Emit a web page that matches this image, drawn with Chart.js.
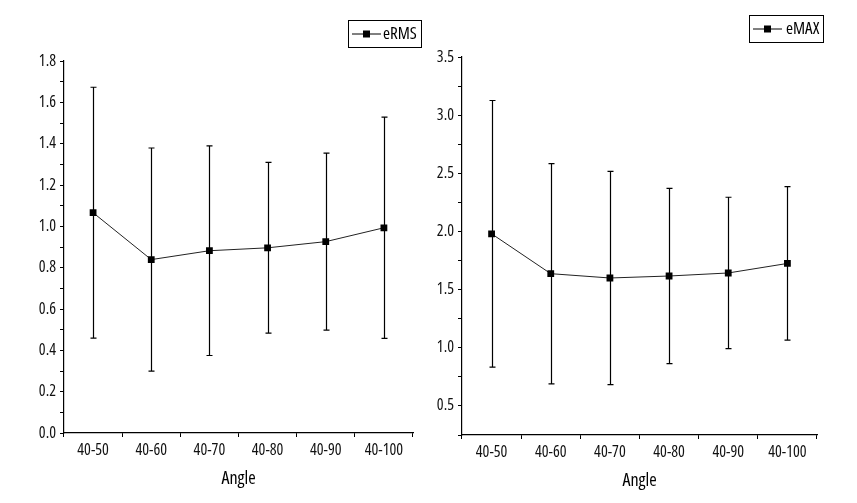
<!DOCTYPE html>
<html>
<head>
<meta charset="utf-8">
<script src="https://cdn.jsdelivr.net/npm/chart.js@4/dist/chart.umd.min.js"></script>
<style>
  html, body { margin: 0; padding: 0; background: #fff; }
  #wrap { position: relative; width: 857px; height: 503px; }
  .panel { position: absolute; top: 0; height: 503px; }
  #left { left: 0; width: 430px; }
  #right { left: 430px; width: 427px; }
</style>
</head>
<body>
<div id="wrap">
  <div class="panel" id="left"><canvas id="rmsChart"></canvas></div>
  <div class="panel" id="right"><canvas id="maxChart"></canvas></div>
</div>
<script>
const angles = ["40-50", "40-60", "40-70", "40-80", "40-90", "40-100"];

const eRmsMean = [1.066, 0.839, 0.882, 0.896, 0.926, 0.993];
const eRmsSd = [0.607, 0.540, 0.507, 0.413, 0.428, 0.535];

const eMaxMean = [1.980, 1.637, 1.600, 1.617, 1.643, 1.725];
const eMaxSd = [1.146, 0.947, 0.917, 0.754, 0.651, 0.660];

// narrow look of the original labels: Open Sans in its condensed width
const FONT = "'Open Sans', 'Liberation Sans', sans-serif";
const NARROW = "condensed";

// vertical error bars with caps, drawn from the dataset's errors array
const errorBars = {
  id: "errorBars",
  afterDatasetsDraw(chart) {
    const ctx = chart.ctx;
    const y = chart.scales.y;
    chart.data.datasets.forEach((ds, i) => {
      const meta = chart.getDatasetMeta(i);
      ctx.save();
      ctx.strokeStyle = "#000";
      ctx.lineWidth = 1.2;
      meta.data.forEach((pt, j) => {
        const x = Math.round(pt.x) + 0.5;
        const top = y.getPixelForValue(ds.data[j] + ds.errors[j]);
        const bot = y.getPixelForValue(ds.data[j] - ds.errors[j]);
        ctx.beginPath();
        ctx.moveTo(x, top);
        ctx.lineTo(x, bot);
        ctx.moveTo(x - 3, top);
        ctx.lineTo(x + 3, top);
        ctx.moveTo(x - 3, bot);
        ctx.lineTo(x + 3, bot);
        ctx.stroke();
      });
      ctx.restore();
    });
  }
};

// boxed legend: line + square marker + label
const boxLegend = {
  id: "boxLegend",
  afterDraw(chart, args, opts) {
    const ctx = chart.ctx;
    const label = chart.data.datasets[0].label;
    const cy = opts.y + opts.h / 2;
    ctx.save();
    ctx.strokeStyle = "#000";
    ctx.fillStyle = "#000";
    ctx.lineWidth = 1;
    ctx.strokeRect(opts.x + 0.5, opts.y + 0.5, opts.w, opts.h);
    ctx.beginPath();
    ctx.moveTo(opts.x + 4, cy + 0.5);
    ctx.lineTo(opts.x + 33, cy + 0.5);
    ctx.stroke();
    ctx.fillRect(opts.x + 15, cy - 3, 7, 7);
    ctx.font = NARROW + " 17px " + FONT;
    ctx.textBaseline = "middle";
    ctx.fillText(label, opts.x + opts.textOffset, cy + 1);
    ctx.restore();
  }
};

function makeChart(id, label, means, sds, yCfg, layout) {
  return new Chart(document.getElementById(id), {
    type: "line",
    data: {
      labels: angles,
      datasets: [{
        label: label,
        data: means,
        errors: sds,
        borderColor: "#222",
        borderWidth: 1,
        pointStyle: "rect",
        pointRadius: 4.8,
        pointBackgroundColor: "#000",
        pointBorderColor: "#000",
        pointBorderWidth: 0,
        tension: 0
      }]
    },
    options: {
      responsive: true,
      maintainAspectRatio: false,
      animation: false,
      layout: { padding: layout.padding },
      plugins: {
        legend: { display: false },
        tooltip: { enabled: false },
        boxLegend: layout.legend
      },
      scales: {
        x: {
          offset: true,
          grid: { offset: true, drawOnChartArea: false, tickLength: 4, color: "#000" },
          border: { color: "#000", width: 1.2 },
          ticks: { color: "#111", font: { family: FONT, size: 16, weight: NARROW }, padding: 4, maxRotation: 0 },
          title: { display: true, text: "Angle", color: "#000", font: { family: FONT, size: 18, weight: NARROW }, padding: 0 },
          afterFit: (s) => { s.height = layout.xHeight; }
        },
        y: {
          min: yCfg.min,
          max: yCfg.max,
          grid: { drawOnChartArea: false, tickLength: 4, color: "#000" },
          border: { color: "#000", width: 1.2 },
          ticks: {
            stepSize: yCfg.minor,
            color: "#111",
            font: { family: FONT, size: 16, weight: NARROW },
            padding: 4,
            autoSkip: false,
            // minor ticks carry no label
            callback: (v) => (Math.round(v / yCfg.minor) % 2 === 0 ? v.toFixed(1) : "")
          },
          afterFit: (s) => { s.width = layout.yWidth; }
        }
      }
    },
    plugins: [errorBars, boxLegend]
  });
}

makeChart("rmsChart", "eRMS", eRmsMean, eRmsSd,
  { min: 0, max: 1.8, minor: 0.1 },
  {
    padding: { top: 61, right: 17, bottom: 13, left: 0 },
    xHeight: 57, yWidth: 64,
    legend: { x: 348, y: 20, w: 73, h: 27, textOffset: 35 }
  });

makeChart("maxChart", "eMAX", eMaxMean, eMaxSd,
  { min: 0.25, max: 3.5, minor: 0.25 },
  {
    padding: { top: 57, right: 40, bottom: 11, left: 0 },
    xHeight: 57, yWidth: 32,
    legend: { x: 319, y: 15, w: 74, h: 27, textOffset: 37 }
  });
</script>
</body>
</html>
